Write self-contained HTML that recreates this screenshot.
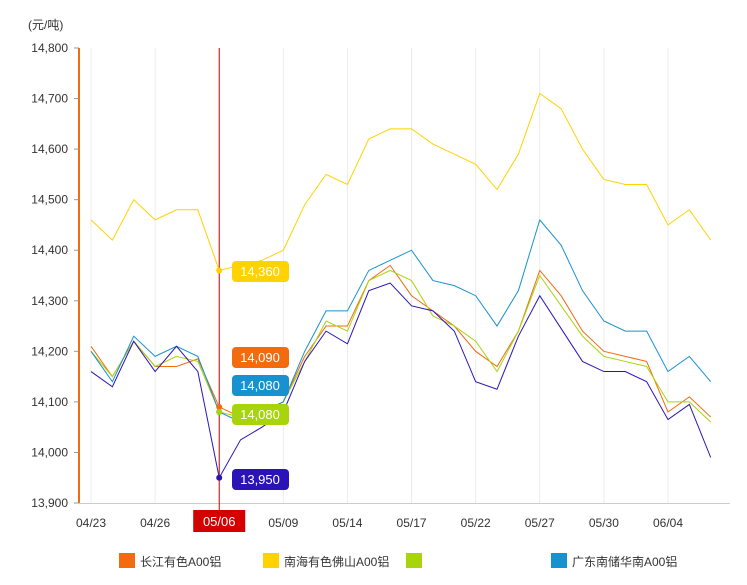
<!DOCTYPE html>
<html><head><meta charset="utf-8"><style>
body{margin:0;background:#fff;font-family:"Liberation Sans","Noto Sans CJK SC",sans-serif;}
svg text{font-family:"Liberation Sans","Noto Sans CJK SC",sans-serif;}
</style></head><body>
<svg id="chart" width="747" height="580" xmlns="http://www.w3.org/2000/svg">
<text x="28" y="29" font-size="12" fill="#333">(元/吨)</text>
<g id="grid"></g><g id="axes"></g><g id="series"></g><g id="overlay"></g>
<g>
<rect x="119" y="553" width="16" height="15" fill="#f26b0f"/>
<text x="140" y="566" font-size="12" fill="#333">长江有色A00铝</text>
<rect x="263" y="553" width="16" height="15" fill="#ffd200"/>
<text x="284" y="566" font-size="12" fill="#333">南海有色佛山A00铝</text>
<rect x="406" y="553" width="16" height="15" fill="#a8d40c"/>
<rect x="551" y="553" width="16" height="15" fill="#1891d0"/>
<text x="572" y="566" font-size="12" fill="#333">广东南储华南A00铝</text>
</g>
</svg>
<script>
const categories=["04/23","04/24","04/25","04/26","04/27","04/28","05/06","05/07","05/08","05/09","05/10","05/13","05/14","05/15","05/16","05/17","05/20","05/21","05/22","05/23","05/24","05/27","05/28","05/29","05/30","05/31","06/03","06/04","06/05","06/06"];
const changjiang=[14210,14150,14220,14170,14170,14185,14090,14070,14080,14100,14190,14250,14250,14340,14370,14310,14280,14250,14200,14170,14240,14360,14310,14240,14200,14190,14180,14080,14110,14070];
const nanhai=[14460,14420,14500,14460,14480,14480,14360,14370,14380,14400,14490,14550,14530,14620,14640,14640,14610,14590,14570,14520,14590,14710,14680,14600,14540,14530,14530,14450,14480,14420];
const limeSeries=[14200,14150,14220,14170,14190,14180,14080,14070,14080,14100,14180,14260,14240,14340,14360,14340,14270,14250,14220,14160,14240,14350,14290,14230,14190,14180,14170,14100,14100,14060];
const guangdong=[14200,14140,14230,14190,14210,14190,14080,14060,14080,14100,14200,14280,14280,14360,14380,14400,14340,14330,14310,14250,14320,14460,14410,14320,14260,14240,14240,14160,14190,14140];
const purpleSeries=[14160,14130,14220,14160,14210,14160,13950,14025,14050,14080,14180,14240,14215,14320,14335,14290,14280,14240,14140,14125,14230,14310,14245,14180,14160,14160,14140,14065,14095,13990];
const yTicks=[13900,14000,14100,14200,14300,14400,14500,14600,14700,14800];
const hoverIndex=6;
const NS="http://www.w3.org/2000/svg";
const x0=91,step=21.37,yMin=13900,yMax=14800,yTop=48,yBot=503;
const X=i=>x0+i*step;
const Y=v=>yBot-(v-yMin)/(yMax-yMin)*(yBot-yTop);
function mk(tag,attrs,parent){const e=document.createElementNS(NS,tag);for(const k in attrs)e.setAttribute(k,attrs[k]);parent.appendChild(e);return e;}
const grid=document.getElementById('grid'),axes=document.getElementById('axes'),ser=document.getElementById('series'),ov=document.getElementById('overlay');
categories.forEach((c,i)=>{if(i%3!==0)return;
 const l=mk('line',{x1:X(i),x2:X(i),y1:yTop,y2:yBot,stroke:'#ececec','stroke-width':1},grid);
 
 
 if(i!==hoverIndex){const t=mk('text',{x:X(i),y:527,'font-size':12,fill:'#333','text-anchor':'middle'},axes);t.textContent=c;
 
 }
});
const ax=mk('line',{x1:79,x2:730,y1:yBot+0.5,y2:yBot+0.5,stroke:'#ccc'},axes);


const ya=mk('line',{x1:79,x2:79,y1:yTop,y2:yBot,stroke:'#f26b0f','stroke-width':2},axes);


yTicks.forEach(v=>{const t=mk('text',{x:68,y:Y(v)+4,'font-size':12,fill:'#333','text-anchor':'end'},axes);t.textContent=v.toLocaleString('en-US');
 
 
 const tk=mk('line',{x1:74,x2:79,y1:Y(v),y2:Y(v),stroke:'#999'},axes);
 
 });
const list=[[nanhai,'#ffd200','nanhai'],[changjiang,'#f26b0f','changjiang'],[limeSeries,'#a8d40c','lime'],[guangdong,'#1891d0','guangdong'],[purpleSeries,'#2a14b8','purple']];
list.forEach(([d,col,n])=>{const p=mk('polyline',{points:d.map((v,i)=>X(i)+','+Y(v)).join(' '),fill:'none',stroke:col,'stroke-width':1},ser);
 
 });
const hx=X(hoverIndex);
const cl=mk('line',{x1:hx,x2:hx,y1:yTop,y2:512,stroke:'#c00','stroke-width':1},ov);


const hb=mk('rect',{x:hx-26,y:510,width:52,height:22,fill:'#d40000'},ov);


const ht=mk('text',{x:hx,y:526,'font-size':13,fill:'#fff','text-anchor':'middle'},ov);ht.textContent=categories[hoverIndex];


const tips=[[nanhai,'#ffd200','nanhai',0],[changjiang,'#f26b0f','changjiang',0],[guangdong,'#1891d0','guangdong',0],[limeSeries,'#a8d40c','lime',0],[purpleSeries,'#2a14b8','purple',0]];
const tipY={nanhai:272,changjiang:358,guangdong:386,lime:415,purple:480};
tips.forEach(([d,col,n])=>{const v=d[hoverIndex];
 const dot=mk('circle',{cx:hx,cy:Y(v),r:3,fill:col},ov);
 
 
 const cy=tipY[n];
 const r=mk('rect',{x:232,y:cy-11,width:57,height:21,rx:4,fill:col},ov);
 
 
 const t=mk('text',{x:260,y:cy+4,'font-size':13,fill:'#fff','text-anchor':'middle'},ov);t.textContent=v.toLocaleString('en-US');
 
 });
</script>
</body></html>
